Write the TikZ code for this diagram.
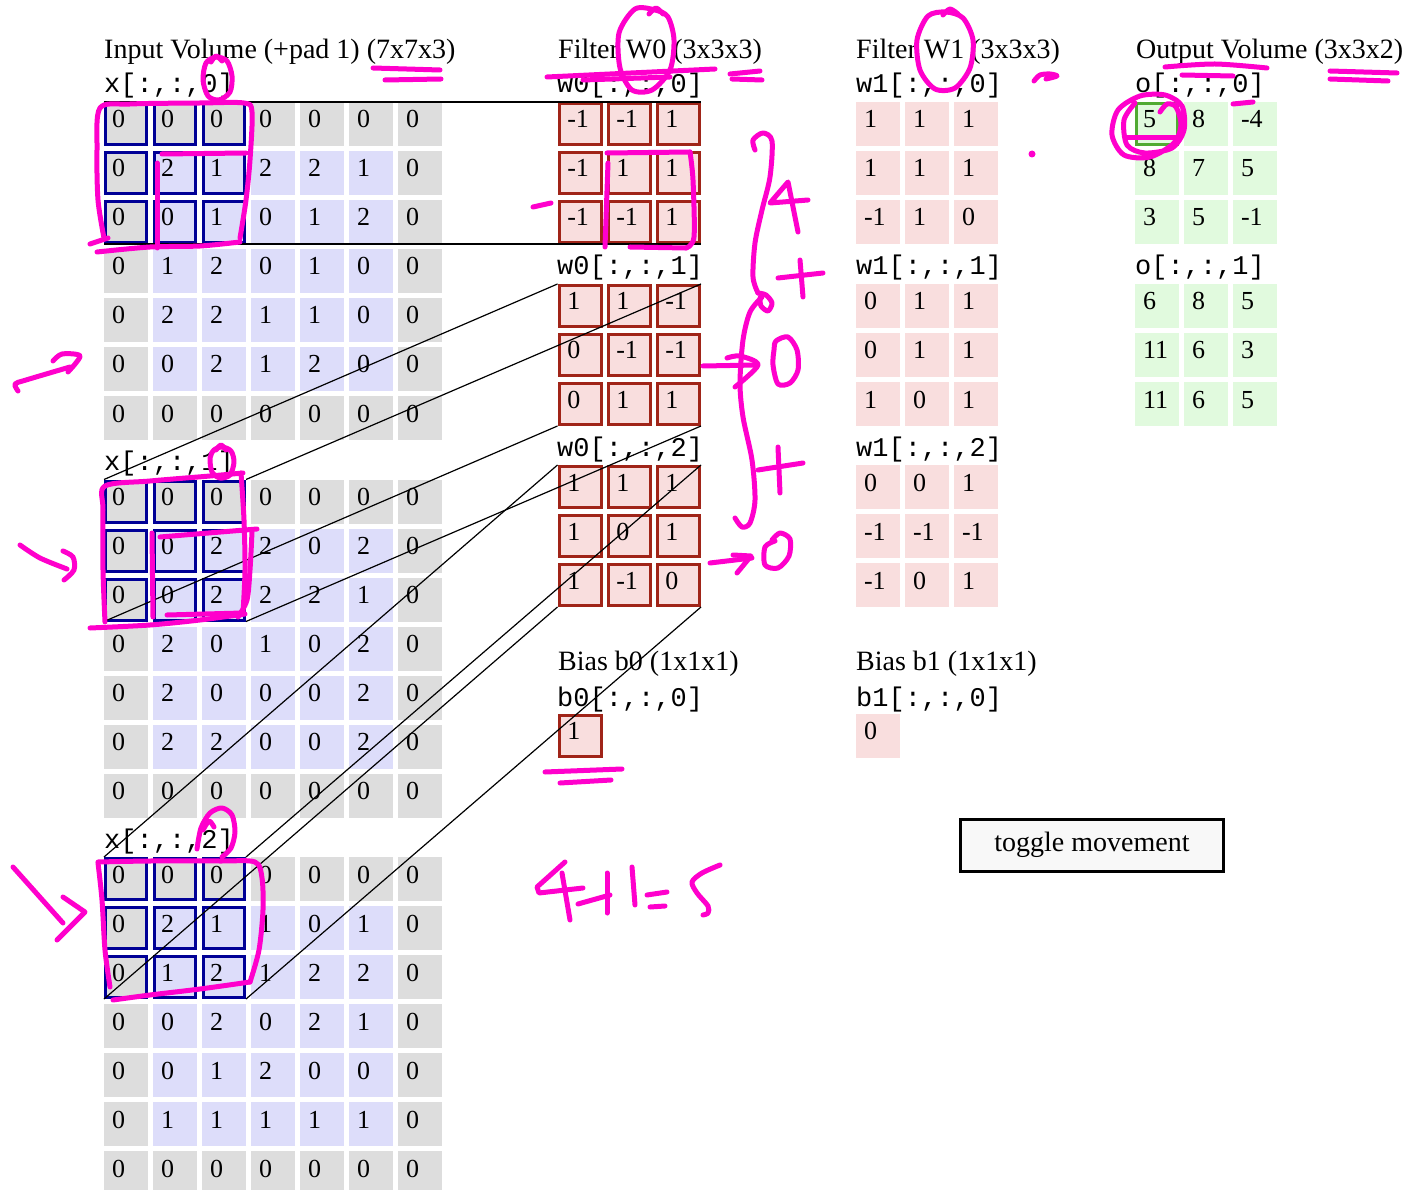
\documentclass[tikz,border=0pt]{standalone}
\usepackage{fontspec}
\setmainfont{Liberation Serif}
\setmonofont{Liberation Mono}
\usetikzlibrary{calc}
\definecolor{padgray}{RGB}{221,221,221}
\definecolor{lav}{RGB}{221,221,250}
\definecolor{wpink}{RGB}{249,222,222}
\definecolor{ogreen}{RGB}{225,250,222}
\definecolor{hlblue}{RGB}{0,0,150}
\definecolor{wred}{RGB}{160,36,24}
\definecolor{hlgreen}{RGB}{80,170,50}
\definecolor{penmag}{RGB}{255,0,204}
\definecolor{btnfill}{RGB}{248,248,248}

\newcommand\inslice[3]{%
  \foreach \row [count=\ri from 0] in {#3} {
    \foreach \v [count=\ci from 0] in \row {
      \pgfmathtruncatemacro\ispad{(\ri==0)||(\ri==6)||(\ci==0)||(\ci==6)}
      \pgfmathtruncatemacro\ishl{(\ri<3)&&(\ci<3)}
      \ifnum\ispad=1 \def\fc{padgray}\else\def\fc{lav}\fi
      \pgfmathsetmacro\cx{126+49*\ci}
      \pgfmathsetmacro\cy{#2+22+49*\ri}
      \ifnum\ishl=1
        \node[cell,fill=\fc,hlcell] (i#1-\ri-\ci) at (\cx,\cy) {\v};
      \else
        \node[cell,fill=\fc] (i#1-\ri-\ci) at (\cx,\cy) {\v};
      \fi
    }
  }
}
\newcommand\fslice[5]{%
  \foreach \row [count=\ri from 0] in {#5} {
    \foreach \v [count=\ci from 0] in \row {
      \pgfmathsetmacro\cx{#2+49*\ci}
      \pgfmathsetmacro\cy{#3+22+49*\ri}
      \node[#4] (#1-\ri-\ci) at (\cx,\cy) {\v};
    }
  }
}

\begin{document}
\begin{tikzpicture}[x=1pt,y=-1pt,
  cell/.style={rectangle, inner sep=0pt, outer sep=0pt, minimum width=44pt, minimum height=44pt,
     text width=28pt, align=left, text height=18pt, text depth=10pt, font=\fontsize{26}{28}\selectfont},
  hlcell/.style={draw=hlblue, line width=3pt, minimum width=41pt, minimum height=41pt, outer sep=1.5pt},
  wcell/.style={cell, fill=wpink, draw=wred, line width=3pt, minimum width=42.5pt, minimum height=41pt,
     outer sep=1.5pt, text width=26pt},
  vcell/.style={cell, fill=wpink},
  ocell/.style={cell, fill=ogreen},
  lab/.style={anchor=base west, inner sep=0pt, font=\ttfamily\fontsize{27}{30}\selectfont},
  ttl/.style={anchor=base west, inner sep=0pt, font=\fontsize{28}{32}\selectfont},
  conn/.style={draw=black, line width=1.2pt},
  pen/.style={draw=penmag, line width=5pt, line cap=round, line join=round},
]
\fill[white] (0,0) rectangle (1406,1190);
\useasboundingbox (0,0) rectangle (1406,1190);

% titles
\node[ttl] (tin) at (104,59) {Input Volume (+pad 1) (7x7x3)};
\node[ttl] (tw0) at (558,59) {Filter W0 (3x3x3)};
\node[ttl] (tw1) at (856,59) {Filter W1 (3x3x3)};
\node[ttl] (tout) at (1136,59) {Output Volume (3x3x2)};
\node[ttl] (tb0) at (558,670) {Bias b0 (1x1x1)};
\node[ttl] (tb1) at (856,670) {Bias b1 (1x1x1)};

% labels
\node[lab] (lx0) at (104,93) {x[:,:,0]};
\node[lab] (lx1) at (104,470.5) {x[:,:,1]};
\node[lab] (lx2) at (104,848) {x[:,:,2]};
\node[lab] (la0) at (557,93) {w0[:,:,0]};
\node[lab] (la1) at (557,275) {w0[:,:,1]};
\node[lab] (la2) at (557,456) {w0[:,:,2]};
\node[lab] (lb0) at (856,93) {w1[:,:,0]};
\node[lab] (lb1) at (856,275) {w1[:,:,1]};
\node[lab] (lb2) at (856,456) {w1[:,:,2]};
\node[lab] (lo0) at (1135,93) {o[:,:,0]};
\node[lab] (lo1) at (1135,275) {o[:,:,1]};
\node[lab] (lbb0) at (557,706) {b0[:,:,0]};
\node[lab] (lbb1) at (856,706) {b1[:,:,0]};

% input volume
\inslice{0}{102}{{0,0,0,0,0,0,0},{0,2,1,2,2,1,0},{0,0,1,0,1,2,0},{0,1,2,0,1,0,0},{0,2,2,1,1,0,0},{0,0,2,1,2,0,0},{0,0,0,0,0,0,0}}
\inslice{1}{479.5}{{0,0,0,0,0,0,0},{0,0,2,2,0,2,0},{0,0,2,2,2,1,0},{0,2,0,1,0,2,0},{0,2,0,0,0,2,0},{0,2,2,0,0,2,0},{0,0,0,0,0,0,0}}
\inslice{2}{857}{{0,0,0,0,0,0,0},{0,2,1,1,0,1,0},{0,1,2,1,2,2,0},{0,0,2,0,2,1,0},{0,0,1,2,0,0,0},{0,1,1,1,1,1,0},{0,0,0,0,0,0,0}}

% filter W0
\fslice{wa0}{580.25}{102}{wcell}{{-1,-1,1},{-1,1,1},{-1,-1,1}}
\fslice{wa1}{580.25}{284}{wcell}{{1,1,-1},{0,-1,-1},{0,1,1}}
\fslice{wa2}{580.25}{465}{wcell}{{1,1,1},{1,0,1},{1,-1,0}}
\node[wcell] (bias0) at (580.25,735.5) {1};

% filter W1
\fslice{wb0}{878}{102}{vcell}{{1,1,1},{1,1,1},{-1,1,0}}
\fslice{wb1}{878}{284}{vcell}{{0,1,1},{0,1,1},{1,0,1}}
\fslice{wb2}{878}{465}{vcell}{{0,0,1},{-1,-1,-1},{-1,0,1}}
\node[vcell] (bias1) at (878,735.5) {0};

% output
\fslice{o0}{1157}{102}{ocell}{{5,8,-4},{8,7,5},{3,5,-1}}
\fslice{o1}{1157}{284}{ocell}{{6,8,5},{11,6,3},{11,6,5}}
\draw[hlgreen, line width=3pt] ($(o0-0-0.north west)+(1.5,1.5)$) rectangle ($(o0-0-0.south east)+(-1.5,-1.5)$);

% button
\node[draw=black, line width=3pt, fill=btnfill, minimum width=263pt, minimum height=52pt, inner sep=0pt,
      font=\fontsize{28}{32}\selectfont] (toggle) at (1092,845) {toggle movement};

% connectors
\foreach \s in {0,1,2} {
  \draw[conn] (i\s-0-0.north west) -- (wa\s-0-0.north west);
  \draw[conn] (i\s-0-2.north east) -- (wa\s-0-2.north east);
  \draw[conn] (i\s-2-0.south west) -- (wa\s-2-0.south west);
  \draw[conn] (i\s-2-2.south east) -- (wa\s-2-2.south east);
}

% ---------- magenta annotations ----------
% under (7x7x3)
\draw[pen] (373,68) -- (440,70);
\draw[pen] (385,80) -- (441,79);
% loop on x[:,:,0] index
\draw[pen] plot[smooth cycle] coordinates {(216,57) (227,61) (232,76) (230,92) (219,100) (208,96) (203,80) (206,63)};
\draw[pen] plot[smooth] coordinates {(211,62) (216,56) (222,61)};
% slice 0 boxes
\draw[pen] plot[smooth] coordinates {(104,238) (98,200) (97,150) (100,108) (130,104) (200,103) (244,103) (252,112) (250,160) (246,200) (240,238)};
\draw[pen] plot[smooth] coordinates {(97,252) (150,247) (200,246) (240,242)};
\draw[pen] (90,244) -- (108,238);
\draw[pen] (162,154) -- (246,153);
\draw[pen] (157,163) -- (157,248);
% slice 1
\draw[pen] plot[smooth cycle] coordinates {(222,447) (231,451) (234,462) (230,475) (220,478) (212,472) (210,458) (214,450)};
\draw[pen] plot[smooth] coordinates {(216,450) (221,445) (226,450)};
\draw[pen] plot[smooth] coordinates {(105,622) (103,570) (103,510) (105,486) (150,481) (210,476) (243,473)};
\draw[pen] plot[smooth] coordinates {(241,473) (244,520) (245,570) (243,613)};
\draw[pen] plot[smooth] coordinates {(90,628) (150,625) (200,620) (245,614)};
\draw[pen] (160,537) -- (257,529);
\draw[pen] (152,533) -- (153,617);
\draw[pen] plot[smooth] coordinates {(252,532) (250,570) (247,600) (238,617)};
\draw[pen] (167,615) -- (243,613);
% slice 2
\draw[pen] plot[smooth] coordinates {(197,849) (201,828) (210,813) (222,808) (232,815) (235,832) (231,848) (222,857)};
\draw[pen] plot[smooth] coordinates {(203,830) (209,821) (214,827)};
\draw[pen] plot[smooth] coordinates {(110,987) (105,950) (102,900) (98,863)};
\draw[pen] plot[smooth] coordinates {(98,862) (150,861) (220,861) (255,862) (262,878) (263,910) (259,950) (250,982)};
\draw[pen] plot[smooth] coordinates {(250,982) (200,989) (150,995) (113,1000)};
% left arrows
\draw[pen] plot[smooth] coordinates {(18,391) (15,384) (26,380) (70,367)};
\draw[pen] plot[smooth] coordinates {(53,361) (62,354) (80,356) (68,372)};
\draw[pen] plot[smooth] coordinates {(20,545) (40,558) (67,569)};
\draw[pen] plot[smooth] coordinates {(63,551) (73,557) (74,570) (64,580)};
\draw[pen] (13,867) -- (63,923);
\draw[pen] (63,897) -- (85,912) -- (57,940);
% W0 title
\draw[pen] plot[smooth cycle] coordinates {(655,10) (668,17) (674,40) (670,70) (652,90) (632,90) (620,68) (619,33) (635,9)};
\draw[pen] plot[smooth] coordinates {(649,14) (656,8) (663,14)};
\draw[pen] (547,77) -- (715,69);
\draw[pen] (583,80) -- (670,77);
\draw[pen] (730,74) -- (760,71);
\draw[pen] (732,79) -- (762,80);
% W0 slice 0 inner box
\draw[pen] (607,153) -- (690,152);
\draw[pen] (608,163) -- (605,247);
\draw[pen] plot[smooth] coordinates {(690,152) (693,180) (694,237) (686,248)};
\draw[pen] (630,247) -- (686,248);
\draw[pen] (533,207) -- (551,203);
% brace and sums
\draw[pen] plot[smooth] coordinates {(755,150) (753,140) (763,133) (772,141) (770,177) (762,210) (755,243) (753,277) (758,293)};
\draw[pen] plot[smooth] coordinates {(758,293) (766,295) (772,303) (768,311) (761,306) (760,298)};
\draw[pen] plot[smooth] coordinates {(762,297) (750,312) (743,340) (740,383) (743,417) (752,460) (755,500) (750,523) (742,527) (735,518)};
\draw[pen] (798,232) -- (788,182) -- (770,203) -- (808,200);
\draw[pen] (778,278) -- (823,273);
\draw[pen] (800,260) -- (803,297);
\draw[pen] (703,366) -- (757,365);
\draw[pen] plot[smooth] coordinates {(727,358) (740,356) (758,365) (735,387)};
\draw[pen] plot[smooth cycle] coordinates {(776,341) (788,337) (797,350) (798,370) (790,383) (778,384) (773,365) (774,350)};
\draw[pen] (778,447) -- (780,493);
\draw[pen] (758,470) -- (803,463);
\draw[pen] (710,563) -- (752,558);
\draw[pen] (733,555) -- (751,556) -- (737,573);
\draw[pen] plot[smooth] coordinates {(772,540) (780,533) (790,539) (789,556) (778,568) (765,565) (765,547) (775,541)};
% 4+1=5
\draw[pen] (565,862) -- (537,887) -- (539,893) -- (583,888);
\draw[pen] (562,873) -- (570,920);
\draw[pen] (578,904) -- (610,895);
\draw[pen] (607,873) -- (607,913);
\draw[pen] (632,867) -- (635,905);
\draw[pen] (647,895) -- (667,892);
\draw[pen] (650,907) -- (665,906);
\draw[pen] plot[smooth] coordinates {(720,865) (702,873) (692,882) (697,893) (708,906) (708,913) (703,915)};
% bias underline
\draw[pen] (545,772) -- (622,769);
\draw[pen] (560,783) -- (611,780);
% W1 title
\draw[pen] plot[smooth cycle] coordinates {(946,12) (963,18) (973,40) (970,68) (955,88) (935,89) (920,70) (917,40) (928,16)};
\draw[pen] plot[smooth] coordinates {(943,15) (950,9) (958,14)};
\draw[pen] plot[smooth] coordinates {(1034,81) (1040,75) (1050,74) (1057,76) (1046,79)};
\fill[penmag] (1032,154) circle (3.5);
% output annotations
\draw[pen] plot[smooth] coordinates {(1165,67) (1215,64) (1267,68)};
\draw[pen] (1182,75) -- (1233,76);
\draw[pen] (1233,104) -- (1253,102);
\draw[pen] (1330,71) -- (1397,73);
\draw[pen] (1330,79) -- (1388,81);
\draw[pen] plot[smooth] coordinates {(1160,112) (1167,104) (1176,107) (1181,125) (1174,143) (1150,157) (1124,155) (1112,135) (1118,110) (1140,96) (1165,95) (1182,106) (1184,130) (1172,148) (1145,153) (1127,145) (1124,120) (1135,103)};
\draw[pen] (1127,138) -- (1177,138);
\end{tikzpicture}
\end{document}
